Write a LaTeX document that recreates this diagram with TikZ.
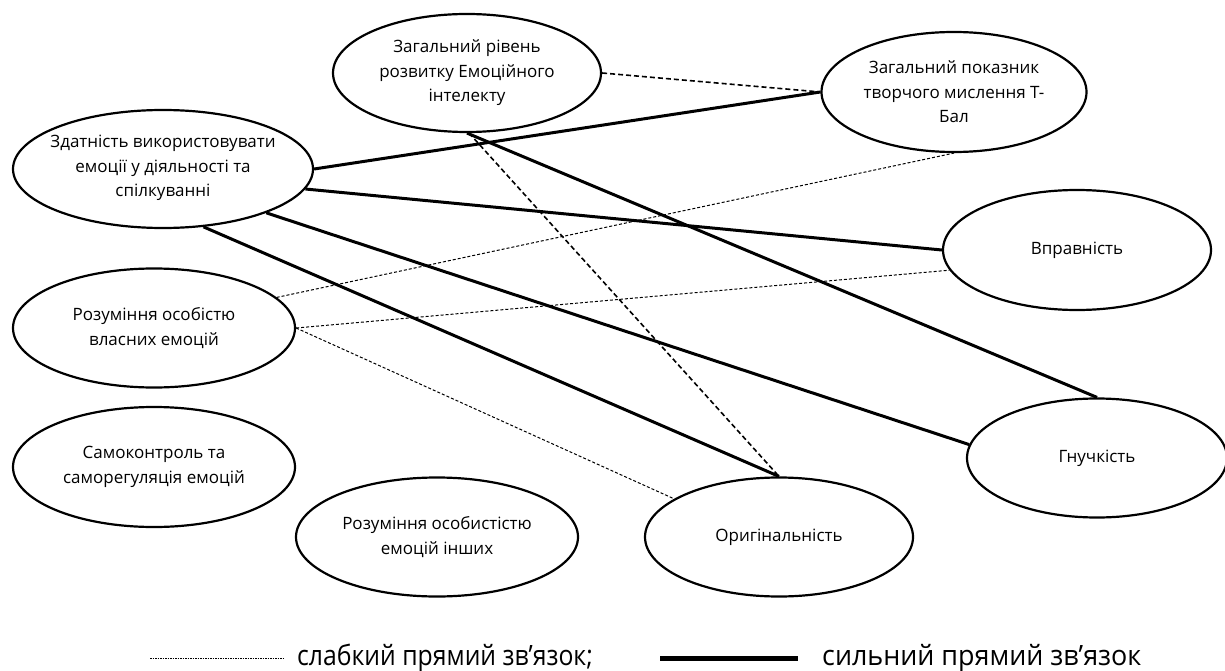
\documentclass[tikz,border=0pt]{standalone}
\usepackage{fontspec}
\setmainfont{Open Sans}
\newfontfamily\legendfont[FakeStretch=0.85]{Open Sans}
\usetikzlibrary{shapes.geometric}
\tikzset{
  ell/.style={draw, ellipse, line width=2.2pt, inner sep=0pt},
  lbl/.style={align=center, font=\fontsize{17}{24.5}\selectfont, inner sep=0pt},
  strong/.style={line width=3pt},
  middash/.style={line width=1.6pt, dash pattern=on 5pt off 3pt},
  weak/.style={line width=1pt, dash pattern=on 3pt off 2pt},
  legtext/.style={font=\legendfont\fontsize{28}{30}\selectfont, inner sep=0pt, anchor=base west}
}
\begin{document}
\begin{tikzpicture}[x=1pt,y=-1pt]
\useasboundingbox (0,0) rectangle (1225,671);
% ellipses
\node[ell, minimum width=300pt, minimum height=118pt] (E1) at (163,169) {};
\node[ell, minimum width=268pt, minimum height=118pt] (E2) at (467,73) {};
\node[ell, minimum width=265pt, minimum height=120pt] (E3) at (954,92) {};
\node[ell, minimum width=268pt, minimum height=120pt] (E4) at (1077,250) {};
\node[ell, minimum width=282pt, minimum height=119pt] (E5) at (154,328) {};
\node[ell, minimum width=260pt, minimum height=119pt] (E6) at (1097,458) {};
\node[ell, minimum width=282pt, minimum height=120pt] (E7) at (154,467) {};
\node[ell, minimum width=282pt, minimum height=119pt] (E8) at (437,537) {};
\node[ell, minimum width=268pt, minimum height=119pt] (E9) at (779,537) {};
% labels
\node[lbl] (T1) at ([yshift=1pt]E1) {Здатність використовувати\\емоції у діяльності та\\спілкуванні};
\node[lbl] (T2) at (E2) {Загальний рівень\\розвитку Емоційного\\інтелекту};
\node[lbl] (T3) at (E3) {Загальний показник\\творчого мислення Т-\\Бал};
\node[lbl] (T4) at (E4) {Вправність};
\node[lbl] (T5) at (E5) {Розуміння особістю\\власних емоцій};
\node[lbl] (T6) at (E6) {Гнучкість};
\node[lbl] (T7) at (E7) {Самоконтроль та\\саморегуляція емоцій};
\node[lbl] (T8) at (E8) {Розуміння особистістю\\емоцій інших};
\node[lbl] (T9) at (E9) {Оригінальність};
% strong connections
\draw[strong] (E1.0) -- (E3.180);
\draw[strong] (E1.-8.5) -- (E4.west);
\draw[strong] (E1.-23) -- (E6.174);
\draw[strong] (E1.-55) -- (E9.north);
\draw[strong] (E2.south) -- (E6.north);
% medium dashed
\draw[middash] (E2.east) -- (E3.180);
\draw[middash] (E2.-88) -- (E9.north);
% weak
\draw[weak] (E5.14) -- (E3.south);
\draw[weak] (E5.east) -- (E4.189);
\draw[weak] (E5.east) -- (E9.160);
% legend
\coordinate (L1a) at (150,658);
\coordinate (L1b) at (285,658);
\coordinate (L2a) at (660,658);
\coordinate (L2b) at (798,658);
\draw[line width=1pt, dash pattern=on 1.5pt off 1pt] (L1a) -- (L1b);
\draw[line width=5pt] (L2a) -- (L2b);
\node[legtext] (LT1) at (297,665) {\scalebox{1.04}[1]{слабкий прямий зв’язок;}};
\node[legtext] (LT2) at (822,665) {\scalebox{1.13}[1]{сильний прямий зв’язок}};
\end{tikzpicture}
\end{document}
